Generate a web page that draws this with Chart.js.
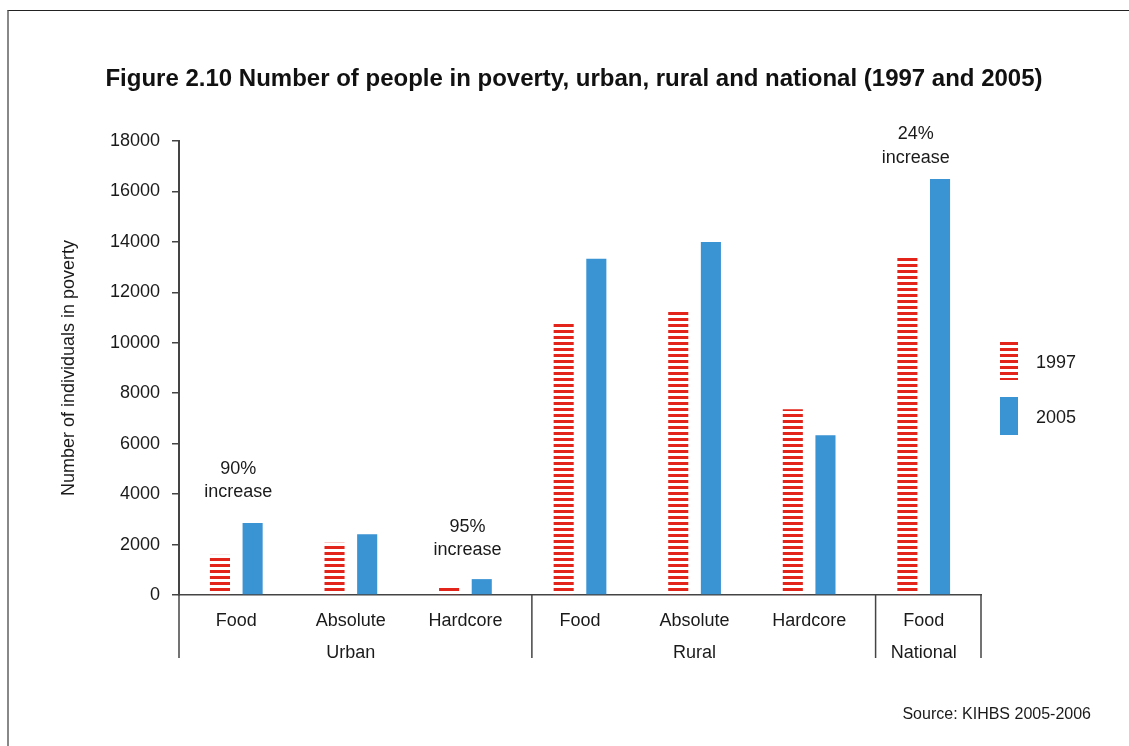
<!DOCTYPE html>
<html lang="en">
<head>
    <meta charset="UTF-8">
    <title>Figure 2.10 Number of people in poverty</title>
    <script src="https://cdn.jsdelivr.net/npm/chart.js"></script>
    <style>
        html, body { margin: 0; padding: 0; background: #fff; }
        #wrap { position: relative; width: 1129px; height: 746px; }
        #frame {
            position: absolute; left: 7px; top: 10px; right: 0; bottom: 0;
            border-top: 1px solid #222; border-left: 2px solid #888;
        }
        canvas { position: absolute; left: 0; top: 0; }
    </style>
</head>
<body>
<div id="wrap">
    <div id="frame"></div>
    <canvas id="povertyChart" width="1129" height="746"></canvas>
</div>

<script>
    // data
    const categories = ['Food', 'Absolute', 'Hardcore', 'Food', 'Absolute', 'Hardcore', 'Food'];
    const groups = ['', 'Urban', '', '', 'Rural', '', 'National'];
    const values1997 = [1590, 2070, 390, 10840, 11310, 7360, 13410];
    const values2005 = [2850, 2410, 630, 13330, 14000, 6330, 16490];
    const seriesNames = ['1997', '2005'];
    const yTicks = [0, 2000, 4000, 6000, 8000, 10000, 12000, 14000, 16000, 18000];

    // text notes above some groups: category index, value where first line sits
    const notes = [
        { cat: 0, at: 5000, lines: ['90%', 'increase'] },
        { cat: 2, at: 2700, lines: ['95%', 'increase'] },
        { cat: 6, at: 18270, lines: ['24%', 'increase'] }
    ];

    const RED = '#e3241b';
    const BLUE = '#3a93d3';
    const FONT = "'Liberation Sans', Arial, sans-serif";

    // striped fill for 1997 bars
    function stripes() {
        const c = document.createElement('canvas');
        c.width = 6; c.height = 6;
        const g = c.getContext('2d');
        g.fillStyle = '#ffffff';
        g.fillRect(0, 0, 6, 6);
        g.fillStyle = RED;
        g.fillRect(0, 0, 6, 3);
        return document.getElementById('povertyChart').getContext('2d').createPattern(c, 'repeat');
    }
    const stripeFill = stripes();

    // title, legend, notes, group dividers, source
    const extras = {
        id: 'extras',
        afterDraw(chart) {
            const ctx = chart.ctx;
            const area = chart.chartArea;
            const x = chart.scales.x;
            const y = chart.scales.y;
            ctx.save();

            ctx.fillStyle = '#111';
            ctx.textAlign = 'center';
            ctx.textBaseline = 'middle';
            ctx.font = 'bold 24px ' + FONT;
            ctx.fillText('Figure 2.10 Number of people in poverty, urban, rural and national (1997 and 2005)', 574, 79);

            // axis lines running down through the category labels
            ctx.strokeStyle = '#444';
            ctx.lineWidth = 1.5;
            const step = x.getPixelForValue(1) - x.getPixelForValue(0);
            const cuts = [area.left, x.getPixelForValue(2) + step * 0.58, x.getPixelForValue(5) + step * 0.58, area.right];
            cuts.forEach(px => {
                ctx.beginPath();
                ctx.moveTo(px, area.bottom);
                ctx.lineTo(px, area.bottom + 63);
                ctx.stroke();
            });

            // notes
            ctx.font = '18px ' + FONT;
            ctx.fillStyle = '#1a1a1a';
            notes.forEach(n => {
                const px = x.getPixelForValue(n.cat) + (n.cat === 6 ? -8 : 2);
                const py = y.getPixelForValue(n.at);
                n.lines.forEach((t, i) => ctx.fillText(t, px, py + i * 23.5));
            });

            // legend
            const fills = [stripeFill, BLUE];
            const boxes = [342, 397];
            seriesNames.forEach((name, i) => {
                ctx.fillStyle = fills[i];
                ctx.fillRect(1000, boxes[i], 18, 38);
                ctx.fillStyle = '#1a1a1a';
                ctx.textAlign = 'left';
                ctx.fillText(name, 1036, boxes[i] + 21);
            });

            ctx.font = '16px ' + FONT;
            ctx.textAlign = 'right';
            ctx.fillText('Source: KIHBS 2005-2006', 1091, 715);
            ctx.restore();
        }
    };

    new Chart(document.getElementById('povertyChart'), {
        type: 'bar',
        data: {
            labels: categories.map((c, i) => [c, groups[i]]),
            datasets: [
                { label: seriesNames[0], data: values1997, backgroundColor: stripeFill },
                { label: seriesNames[1], data: values2005, backgroundColor: BLUE }
            ]
        },
        options: {
            responsive: false,
            animation: false,
            events: [],
            datasets: { bar: { categoryPercentage: 0.57, barPercentage: 0.615 } },
            layout: { padding: { left: 52, right: 148, top: 141, bottom: 71 } },
            plugins: { legend: { display: false }, title: { display: false }, tooltip: { enabled: false } },
            scales: {
                x: {
                    grid: { display: false, drawTicks: false },
                    border: { color: '#444', width: 1.5 },
                    ticks: { color: '#1a1a1a', font: { family: FONT, size: 18, lineHeight: 1.78 }, padding: 10, maxRotation: 0, autoSkip: false },
                    afterFit: s => { s.height = 80; }
                },
                y: {
                    min: 0,
                    max: 18000,
                    afterBuildTicks: s => { s.ticks = yTicks.map(v => ({ value: v })); },
                    grid: { drawOnChartArea: false, tickLength: 7, color: '#444', lineWidth: 1.5 },
                    border: { color: '#444', width: 2 },
                    ticks: { color: '#1a1a1a', font: { family: FONT, size: 18 }, padding: 12, callback: v => String(v) },
                    title: { display: true, text: 'Number of individuals in poverty', color: '#1a1a1a', font: { family: FONT, size: 18 }, padding: { top: 6, bottom: 0 } },
                    afterFit: s => { s.width = 127; }
                }
            }
        },
        plugins: [extras]
    });
</script>
</body>
</html>
